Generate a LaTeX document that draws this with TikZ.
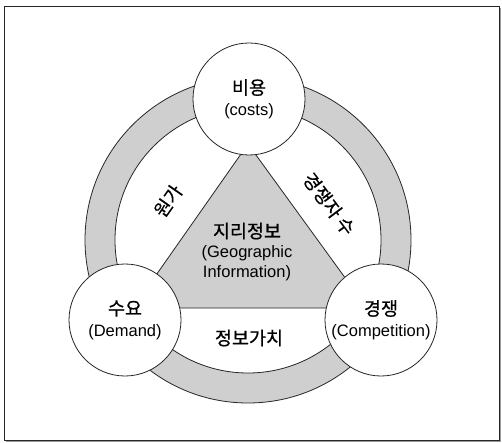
\documentclass[tikz,border=0pt]{standalone}
\usepackage{fontspec}
\setmainfont{Liberation Sans}
\newfontfamily\kr[FakeBold=0.6]{Noto Sans CJK KR}
\usepackage{xcolor}
\usetikzlibrary{positioning,calc}
\definecolor{ringgray}{gray}{0.81}
\newcommand{\kor}[1]{{\kr\fontsize{18.5}{21}\selectfont #1}}

\begin{document}
\begin{tikzpicture}[
    x=1pt, y=-1pt,
    hub/.style={circle, draw=black!85, line width=0.8pt, fill=white, minimum size=112pt, inner sep=0pt, align=center, font=\fontsize{16.5}{21}\selectfont},
    band/.style={inner sep=0pt, align=center, font=\fontsize{16.5}{20}\selectfont}
  ]
    \useasboundingbox (0,0) rectangle (502,443);
    \draw[black!40, line width=1pt] (6,441) -- (500.5,441) -- (500.5,8);
    \draw[black!85, line width=0.8pt] (4,6) rectangle (499,440);
    \coordinate (ctr) at (248,240);
    \fill[ringgray, even odd rule] (ctr) circle (163pt) (ctr) circle (133pt);
    \draw[black!85, line width=0.8pt] (ctr) circle (163pt) (ctr) circle (133pt);
    \coordinate (apex) at (248,144);
    \coordinate (bl) at (133,308);
    \coordinate (br) at (367,308);
    \filldraw[fill=ringgray, draw=black!85, line width=0.8pt] (apex) -- (bl) -- (br) -- cycle;
    \node[hub] (cost) at (249,99) {\kor{비용}\\(costs)};
    \node[hub] (demand) at (125,320) {\kor{수요}\\(Demand)};
    \node[hub] (comp) at (381,320) {\kor{경쟁}\\(Competition)};
    \node[band] (geo) at (247,252) {\kor{지리정보}\\(Geographic\\Information)};
    \node[band] (value) at (249,338) {\kor{정보가치}};
    \node[band, rotate=55] (price) at (168,201) {\kor{원가}};
    \node[band, rotate=-53] (rivals) at (329,204) {\kor{경쟁자 수}};
  \end{tikzpicture}
\end{document}
